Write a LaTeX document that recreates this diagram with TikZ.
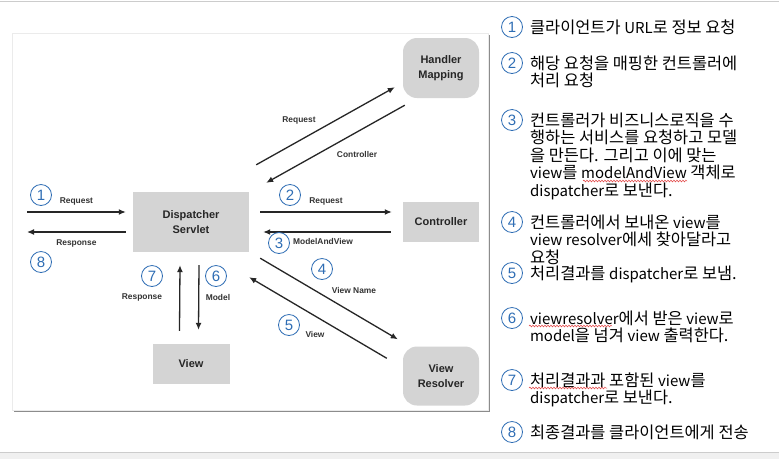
\documentclass[tikz,border=0pt]{standalone}
\usepackage{fontspec}
\setmainfont{Liberation Sans}
\newfontfamily\krfont{Noto Sans CJK KR}
\usetikzlibrary{arrows.meta,positioning,decorations.pathmorphing}
\definecolor{numblue}{HTML}{2E6DB4}
\definecolor{boxgray}{HTML}{D4D4D4}
\definecolor{squig}{HTML}{E03A3A}
% latin words inside the korean list are set a little smaller
\newcommand\lat[1]{{\fontsize{15}{17.5}\selectfont #1}}

\begin{document}
\begin{tikzpicture}[x=1pt,y=-1pt,>={Latex[length=7pt,width=6pt]},
    box/.style={fill=boxgray,inner sep=0pt,align=center,text=black!85,
      font=\bfseries\fontsize{11}{15.5}\selectfont},
    roundbox/.style={box,rounded corners=14pt},
    flow/.style={->,line width=1.3pt,black!85},
    lbl/.style={font=\bfseries\fontsize{8.4}{10}\selectfont,text=black!80,inner sep=1pt},
    num/.style={circle,draw=numblue,line width=0.8pt,minimum size=21pt,
      inner sep=0pt,text=numblue,font=\fontsize{15}{15}\selectfont},
    item/.style={anchor=north west,inner sep=0pt,align=left,
      font=\krfont\fontsize{16.4}{17.5}\selectfont},
    wavy/.style={squig,line width=0.5pt,decorate,
      decoration={snake,amplitude=0.9pt,segment length=3pt}}]
    \useasboundingbox (0,0) rectangle (779,459);
    % window edges
    \draw[black!20] (0,1.5) -- (779,1.5);
    \fill[black!6] (0,452) rectangle (779,459);
    \draw[black!20] (0,452) -- (779,452);
    % figure frame with shadow
    \fill[black!45] (14,35) rectangle (490,412);
    \fill[white] (12,33) rectangle (488,410);
    \draw[black!8] (12,33) rectangle (488,410);

    \node[box,minimum width=116pt,minimum height=60pt] (ds) at (191,222)
      {Dispatcher\\Servlet};
    \node[roundbox,minimum width=76pt,minimum height=60pt] (hm) at (441,68)
      {Handler\\Mapping};
    \node[box,minimum width=76pt,minimum height=40pt] (ctrl) at (441,222)
      {Controller};
    \node[box,minimum width=77pt,minimum height=40pt] (view) at (191,364)
      {View};
    \node[roundbox,minimum width=76pt,minimum height=59pt] (vr) at (441,376)
      {View\\Resolver};
    \coordinate (client) at (27,222);

    % client <-> dispatcher
    \draw[flow] ([yshift=10pt]client) --
      node[lbl,above=5pt]{Request} ([xshift=-7pt,yshift=10pt]ds.west);
    \draw[flow] ([xshift=-7pt,yshift=-10pt]ds.west) --
      node[lbl,below=6pt]{Response} ([yshift=-10pt]client);
    % dispatcher <-> handler mapping
    \draw[flow] ([xshift=7pt,yshift=27pt]ds.north east) --
      ([xshift=-8pt,yshift=11pt]hm.south west);
    \draw[flow] ([xshift=2pt,yshift=-7pt]hm.south west) --
      ([xshift=17pt,yshift=9pt]ds.north east);
    \node[lbl] at (299,120) {Request};
    \node[lbl] at (357,154) {Controller};
    % dispatcher <-> controller
    \draw[flow] ([xshift=11pt,yshift=10pt]ds.east) --
      node[lbl,above=5pt]{Request} ([xshift=-11pt,yshift=10pt]ctrl.west);
    \draw[flow] ([xshift=-12pt,yshift=-10pt]ctrl.west) --
      node[lbl,below=5pt,xshift=-4pt]{ModelAndView} ([xshift=14pt,yshift=-10pt]ds.east);
    % dispatcher <-> view resolver
    \draw[flow] ([xshift=11pt,yshift=-6pt]ds.south east) --
      ([xshift=-5pt,yshift=7pt]vr.north west);
    \draw[flow] ([xshift=-16pt,yshift=-12pt]vr.north west) --
      ([yshift=-25pt]ds.south east);
    \node[lbl] at (354,290) {View Name};
    \node[lbl] at (315,334) {View};
    % dispatcher <-> view
    \draw[flow] ([xshift=-11.5pt,yshift=13pt]view.north) --
      ([xshift=-11pt,yshift=-13pt]ds.south);
    \draw[flow] ([xshift=8pt,yshift=-13pt]ds.south) --
      ([xshift=7.5pt,yshift=14pt]view.north);
    \node[lbl] at (142,297) {Response};
    \node[lbl] at (218,297) {Model};

    % step numbers in the figure
    \node[num] (s1) at (41,195) {1};
    \node[num] (s2) at (290,195) {2};
    \node[num] (s3) at (279,243) {3};
    \node[num] (s4) at (322,269) {4};
    \node[num] (s5) at (289,325) {5};
    \node[num] (s6) at (216,276) {6};
    \node[num] (s7) at (152,276) {7};
    \node[num] (s8) at (41,262) {8};

    % step list
    \node[num] (r1) at (512,27) {1};
    \node[item] (t1) at ([xshift=7pt,yshift=7.5pt]r1.east)
      {클라이언트가 \lat{URL}로 정보 요청};
    \node[num] (r2) at (512,63) {2};
    \node[item] (t2) at ([xshift=7pt,yshift=7.5pt]r2.east)
      {해당 요청을 매핑한 컨트롤러에\\처리 요청};
    \node[num] (r3) at (512,120) {3};
    \node[item] (t3) at ([xshift=7pt,yshift=7.5pt]r3.east)
      {컨트롤러가 비즈니스로직을 수\\행하는 서비스를 요청하고 모델\\을 만든다. 그리고 이에 맞는\\\lat{view}를 \lat{modelAndView} 객체로\\\lat{dispatcher}로 보낸다.};
    \node[num] (r4) at (512,222) {4};
    \node[item] (t4) at ([xshift=7pt,yshift=7.5pt]r4.east)
      {컨트롤러에서 보내온 \lat{view}를\\\lat{view resolver}에세 찾아달라고\\요청};
    \node[num] (r5) at (512,273) {5};
    \node[item] (t5) at ([xshift=7pt,yshift=7.5pt]r5.east)
      {처리결과를 \lat{dispatcher}로 보냄.};
    \node[num] (r6) at (512,318) {6};
    \node[item] (t6) at ([xshift=7pt,yshift=7.5pt]r6.east)
      {\lat{viewresolver}에서 받은 \lat{view}로\\\lat{model}을 넘겨 \lat{view} 출력한다.};
    \node[num] (r7) at (512,380) {7};
    \node[item] (t7) at ([xshift=7pt,yshift=7.5pt]r7.east)
      {처리결과과 포함된 \lat{view}를\\\lat{dispatcher}로 보낸다.};
    \node[num] (r8) at (512,432) {8};
    \node[item] (t8) at ([xshift=7pt,yshift=7.5pt]r8.east)
      {최종결과를 클라이언트에게 전송};

    % spell-check marks
    \draw[wavy] (583,181) -- (687,181);
    \draw[wavy] (529,326) -- (612,326);
    \draw[wavy] (529,388) -- (607,388);
  \end{tikzpicture}
\end{document}
